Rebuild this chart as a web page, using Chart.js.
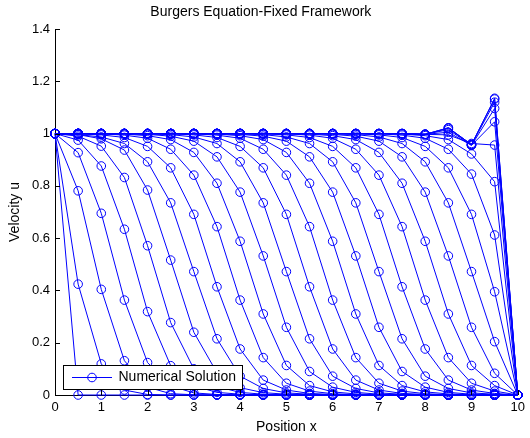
<!DOCTYPE html>
<html>
<head>
<meta charset="utf-8">
<script src="https://cdn.jsdelivr.net/npm/chart.js@4.4.0/dist/chart.umd.min.js"></script>
<style>
html,body{margin:0;padding:0;background:#fff;}
#wrap{width:530px;height:438px;}
</style>
</head>
<body>
<div id="wrap"><canvas id="c" width="530" height="438"></canvas></div>
<script>
// ---- data ----
const positions = [0,0.5,1,1.5,2,2.5,3,3.5,4,4.5,5,5.5,6,6.5,7,7.5,8,8.5,9,9.5,10];

const u_t00 = [1,0,0,0,0,0,0,0,0,0,0,0,0,0,0,0,0,0,0,0,0];
const u_t01 = [1,0.424,0.119,0.019,0.002,0,0,0,0,0,0,0,0,0,0,0,0,0,0,0,0];
const u_t02 = [1,0.781,0.404,0.131,0.030,0.005,0.001,0,0,0,0,0,0,0,0,0,0,0,0,0,0];
const u_t03 = [1,0.927,0.695,0.363,0.124,0.035,0.008,0.002,0,0,0,0,0,0,0,0,0,0,0,0,0];
const u_t04 = [1,0.975,0.876,0.634,0.319,0.112,0.035,0.010,0.003,0.001,0,0,0,0,0,0,0,0,0,0,0];
const u_t05 = [1,0.990,0.952,0.832,0.571,0.277,0.100,0.032,0.010,0.003,0.001,0,0,0,0,0,0,0,0,0,0];
const u_t06 = [1,0.996,0.980,0.937,0.784,0.516,0.240,0.085,0.028,0.009,0.003,0.001,0,0,0,0,0,0,0,0,0];
const u_t07 = [1,0.996,0.987,0.962,0.892,0.735,0.472,0.215,0.072,0.025,0.008,0.003,0.001,0,0,0,0,0,0,0,0];
const u_t08 = [1,0.999,0.995,0.985,0.951,0.869,0.691,0.414,0.176,0.057,0.019,0.006,0.002,0.001,0,0,0,0,0,0,0];
const u_t09 = [1,1,0.999,0.994,0.982,0.940,0.841,0.644,0.363,0.143,0.045,0.015,0.005,0.001,0,0,0,0,0,0,0];
const u_t10 = [1,1,0.999,0.998,0.992,0.977,0.928,0.810,0.588,0.310,0.113,0.036,0.012,0.004,0.001,0,0,0,0,0,0];
const u_t11 = [1,1,1,0.999,0.997,0.990,0.971,0.911,0.776,0.532,0.259,0.090,0.030,0.010,0.003,0.001,0,0,0,0,0];
const u_t12 = [1,1,1,1,0.999,0.996,0.987,0.962,0.892,0.735,0.472,0.215,0.072,0.025,0.008,0.003,0.001,0,0,0,0];
const u_t13 = [1,1,1,1,1,0.999,0.995,0.985,0.951,0.869,0.691,0.414,0.176,0.057,0.019,0.006,0.002,0.001,0,0,0];
const u_t14 = [1,1,1,1,1,1,0.999,0.994,0.982,0.940,0.841,0.644,0.363,0.143,0.045,0.015,0.005,0.001,0,0,0];
const u_t15 = [1,1,1,1,1,1,0.999,0.998,0.992,0.977,0.928,0.810,0.588,0.310,0.113,0.036,0.012,0.004,0.001,0,0];
const u_t16 = [1,1,1,1,1,1,1,0.999,0.997,0.990,0.971,0.911,0.776,0.532,0.259,0.090,0.030,0.010,0.003,0.001,0];
const u_t17 = [1,1,1,1,1,1,1,1,0.999,0.996,0.987,0.962,0.892,0.735,0.472,0.215,0.072,0.025,0.008,0.003,0];
const u_t18 = [1,1,1,1,1,1,1,1,1,0.999,0.995,0.985,0.951,0.869,0.691,0.414,0.176,0.057,0.019,0.006,0];
const u_t19 = [1,1,1,1,1,1,1,1,1,1,0.999,0.994,0.982,0.940,0.841,0.644,0.363,0.143,0.045,0.015,0];
const u_t20 = [1,1,1,1,1,1,1,1,1,1,0.999,0.998,0.992,0.977,0.928,0.810,0.588,0.310,0.113,0.036,0];
const u_t21 = [1,1,1,1,1,1,1,1,1,1,1,0.999,0.997,0.990,0.971,0.911,0.776,0.532,0.259,0.083,0];
const u_t22 = [1,1,1,1,1,1,1,1,1,1,1,1,0.999,0.996,0.987,0.962,0.892,0.735,0.472,0.204,0];
const u_t23 = [1,1,1,1,1,1,1,1,1,1,1,1,1,0.999,0.995,0.985,0.951,0.869,0.691,0.395,0];
const u_t24 = [1,1,1,1,1,1,1,1,1,1,1,1,1,1,0.999,0.994,0.982,0.940,0.845,0.612,0];
const u_t25 = [1,1,1,1,1,1,1,1,1,1,1,1,1,1,0.999,0.998,0.992,0.977,0.922,0.816,0];
const u_t26 = [1,1,1,1,1,1,1,1,1,1,1,1,1,1,1,0.999,0.997,0.995,0.962,0.956,0];
const u_t27 = [1,1,1,1,1,1,1,1,1,1,1,1,1,1,1,1,0.997,1.005,0.955,1.045,0];
const u_t28 = [1,1,1,1,1,1,1,1,1,1,1,1,1,1,1,1,0.997,1.015,0.955,1.096,0];
const u_t29 = [1,1,1,1,1,1,1,1,1,1,1,1,1,1,1,1,0.997,1.020,0.957,1.120,0];
const u_t30 = [1,1,1,1,1,1,1,1,1,1,1,1,1,1,1,1,0.997,1.022,0.958,1.132,0];
const u_t31 = [1,1,1,1,1,1,1,1,1,1,1,1,1,1,1,1,0.997,1.022,0.958,1.135,0];

const snapshots = [u_t00,u_t01,u_t02,u_t03,u_t04,u_t05,u_t06,u_t07,u_t08,u_t09,u_t10,
                   u_t11,u_t12,u_t13,u_t14,u_t15,u_t16,u_t17,u_t18,u_t19,u_t20,
                   u_t21,u_t22,u_t23,u_t24,u_t25,u_t26,u_t27,u_t28,u_t29,u_t30,u_t31];

const legendLabel = 'Numerical Solution';
const chartTitle  = 'Burgers Equation-Fixed Framework';
const xAxisLabel  = 'Position x';
const yAxisLabel  = 'Velocity u';

// ---- chart ----
const FONT = "'Liberation Sans', Arial, Helvetica, sans-serif";
Chart.defaults.font.family = FONT;
Chart.defaults.color = '#000';
const BLUE = '#0000ff';

const datasets = snapshots.map((vals, k) => ({
  label: k === 0 ? legendLabel : 'snapshot ' + k,
  data: positions.map((x, i) => ({x: x, y: vals[i]})),
  borderColor: BLUE,
  borderWidth: 1,
  backgroundColor: 'rgba(0,0,0,0)',
  pointStyle: 'circle',
  pointRadius: 4.3,
  pointBorderWidth: 1,
  pointBorderColor: BLUE,
  pointBackgroundColor: 'rgba(0,0,0,0)',
  tension: 0,
  fill: false,
  clip: false
}));

const innerTicks = {
  id: 'innerTicks',
  afterDatasetsDraw(chart) {
    const {ctx, chartArea: a, scales: {x, y}} = chart;
    ctx.save();
    ctx.strokeStyle = '#000';
    ctx.lineWidth = 1;
    ctx.beginPath();
    x.ticks.forEach(t => {
      const p = Math.round(x.getPixelForValue(t.value)) + 0.5;
      ctx.moveTo(p, a.bottom); ctx.lineTo(p, a.bottom - 5);
    });
    y.ticks.forEach(t => {
      const p = Math.round(y.getPixelForValue(t.value)) + 0.5;
      ctx.moveTo(a.left, p); ctx.lineTo(a.left + 5, p);
    });
    ctx.stroke();
    ctx.restore();
  }
};

const boxLegend = {
  id: 'boxLegend',
  afterDraw(chart) {
    const ctx = chart.ctx;
    const ds = chart.data.datasets[0];
    const bx = 63.5, by = 365.5, bw = 179, bh = 24;
    ctx.save();
    ctx.fillStyle = '#fff';
    ctx.fillRect(bx, by, bw, bh);
    ctx.strokeStyle = '#000';
    ctx.lineWidth = 1;
    ctx.strokeRect(bx, by, bw, bh);
    const cy = by + bh / 2;
    ctx.strokeStyle = ds.borderColor;
    ctx.beginPath(); ctx.moveTo(72, cy); ctx.lineTo(112, cy); ctx.stroke();
    ctx.beginPath(); ctx.arc(92, cy, 4.3, 0, Math.PI * 2); ctx.stroke();
    ctx.fillStyle = '#000';
    ctx.font = '14px ' + FONT;
    ctx.textBaseline = 'middle';
    ctx.textAlign = 'left';
    ctx.fillText(ds.label, 118.5, cy);
    ctx.restore();
  }
};

new Chart(document.getElementById('c'), {
  type: 'line',
  data: {datasets: datasets},
  options: {
    responsive: false,
    animation: false,
    devicePixelRatio: 1,
    layout: {padding: {left: 0, right: 8.3, top: 0, bottom: 0}},
    plugins: {
      legend: {display: false},
      tooltip: {enabled: false},
      title: {
        display: true, text: chartTitle, color: '#000',
        font: {size: 14, weight: 'normal'},
        padding: {top: 4, bottom: 8.2}
      }
    },
    scales: {
      x: {
        type: 'linear', min: 0, max: 10,
        ticks: {stepSize: 1, color: '#000', font: {size: 13}, padding: 5, maxRotation: 0, autoSkip: false},
        grid: {display: false, drawTicks: false},
        border: {display: true, color: '#000', width: 1},
        title: {display: true, text: xAxisLabel, color: '#000', font: {size: 14}, padding: {top: 0, bottom: 2.6}},
        afterFit(s) { s.height = 43; }
      },
      y: {
        type: 'linear', min: 0, max: 1.4,
        ticks: {stepSize: 0.2, color: '#000', font: {size: 13}, padding: 5,
                callback: v => String(Math.round(v * 10) / 10)},
        grid: {display: false, drawTicks: false},
        border: {display: true, color: '#000', width: 1},
        title: {display: true, text: yAxisLabel, color: '#000', font: {size: 14}, padding: {top: 6.6, bottom: 0}},
        afterFit(s) { s.width = 55; }
      }
    }
  },
  plugins: [innerTicks, boxLegend]
});
</script>
</body>
</html>
